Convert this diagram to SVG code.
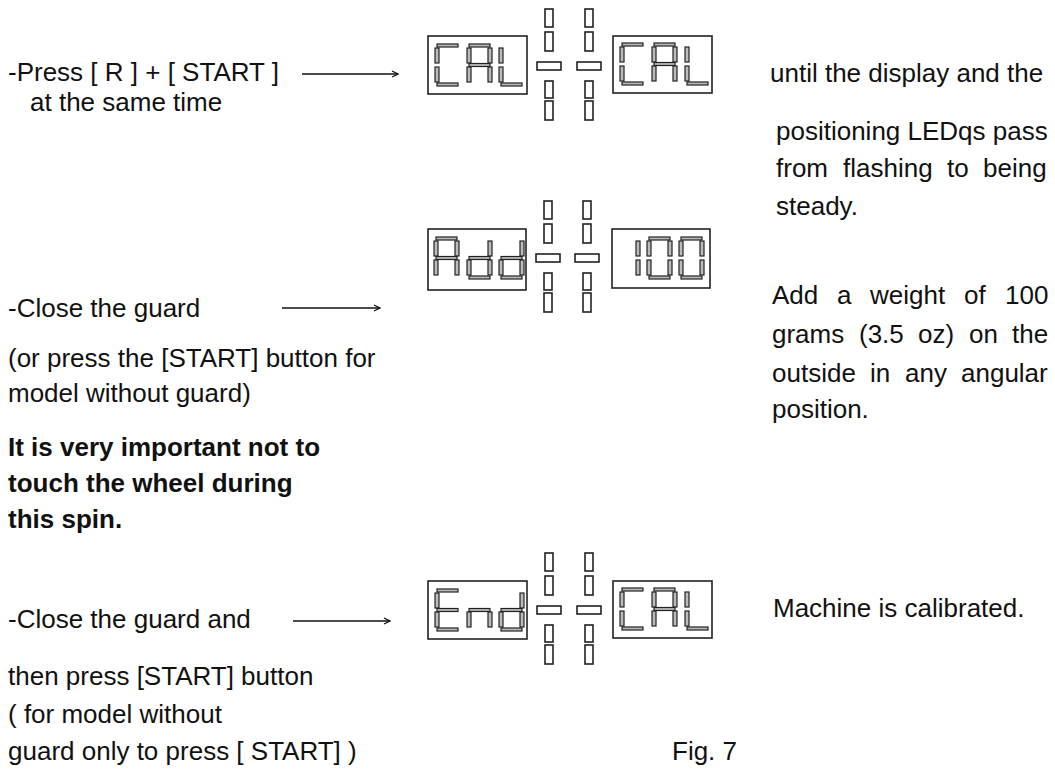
<svg xmlns="http://www.w3.org/2000/svg" xmlns:xlink="http://www.w3.org/1999/xlink" width="1055" height="771" viewBox="0 0 1055 771">
<style>
.t{font-family:"Liberation Sans",Arial,sans-serif;font-size:26px;fill:#111}
.b{font-weight:bold}
.box{fill:none;stroke:#222;stroke-width:1.6}
.seg{fill:#bbb;stroke:#222;stroke-width:1.2}
.cs{fill:#fff;stroke:#222;stroke-width:1.6}
.arr{stroke:#111;stroke-width:1.3;fill:none}
</style>
<defs>
<marker id="ah" markerWidth="8" markerHeight="8" refX="7" refY="4" orient="auto" markerUnits="userSpaceOnUse">
<path d="M1,1 L7,4 L1,7" fill="none" stroke="#111" stroke-width="1.2"/>
</marker>
<rect id="sa" class="seg" x="2" y="0" width="21" height="3"/>
<rect id="sf" class="seg" x="0" y="4" width="4" height="15"/>
<rect id="sb" class="seg" x="21" y="4" width="4" height="15"/>
<rect id="sg" class="seg" x="2" y="19.5" width="21" height="3"/>
<rect id="se" class="seg" x="0" y="23" width="4" height="15"/>
<rect id="sc" class="seg" x="21" y="23" width="4" height="15"/>
<rect id="sd" class="seg" x="2" y="39" width="21" height="3"/>
<g id="dC"><use href="#sa"/><use href="#sf"/><use href="#se"/><use href="#sd"/></g>
<g id="dA"><use href="#sa"/><use href="#sf"/><use href="#sb"/><use href="#sg"/><use href="#se"/><use href="#sc"/></g>
<g id="dL"><use href="#sf"/><use href="#se"/><use href="#sd"/></g>
<g id="dd"><use href="#sb"/><use href="#sg"/><use href="#se"/><use href="#sc"/><use href="#sd"/></g>
<g id="dE"><use href="#sa"/><use href="#sf"/><use href="#sg"/><use href="#se"/><use href="#sd"/></g>
<g id="dn"><use href="#sg"/><use href="#se"/><use href="#sc"/></g>
<g id="d1"><use href="#sb"/><use href="#sc"/></g>
<g id="d0"><use href="#sa"/><use href="#sf"/><use href="#sb"/><use href="#se"/><use href="#sc"/><use href="#sd"/></g>
<g id="cross">
<rect class="cs" x="0" y="0" width="8" height="18"/>
<rect class="cs" x="0" y="23" width="8" height="19"/>
<rect class="cs" x="-8" y="53" width="24" height="8"/>
<rect class="cs" x="0" y="72" width="8" height="17"/>
<rect class="cs" x="0" y="92" width="8" height="19"/>
</g>
</defs>
<rect width="1055" height="771" fill="#fff"/>

<g id="display1">
<rect class="box" x="428" y="36" width="99" height="58"/>
<use href="#dC" x="435" y="44"/><use href="#dA" x="467" y="44"/><use href="#dL" x="499" y="44"/>
<use href="#cross" x="545" y="9"/><use href="#cross" x="585" y="9"/>
<rect class="box" x="613" y="36" width="99" height="57"/>
<use href="#dC" x="620" y="43"/><use href="#dA" x="652" y="43"/><use href="#dL" x="685" y="43"/>
</g>

<g id="display2">
<rect class="box" x="428" y="229" width="98" height="61"/>
<use href="#dA" x="434" y="237"/><use href="#dd" x="467" y="237"/><use href="#dd" x="499" y="237"/>
<use href="#cross" x="544" y="201"/><use href="#cross" x="583" y="201"/>
<rect class="box" x="612" y="229" width="98" height="59"/>
<use href="#d1" x="615" y="237"/><use href="#d0" x="647" y="237"/><use href="#d0" x="679" y="237"/>
</g>

<g id="display3">
<rect class="box" x="428" y="581" width="99" height="58"/>
<use href="#dE" x="435" y="589"/><use href="#dn" x="467" y="589"/><use href="#dd" x="499" y="589"/>
<use href="#cross" x="545" y="553"/><use href="#cross" x="585" y="553"/>
<rect class="box" x="613" y="581" width="99" height="57"/>
<use href="#dC" x="620" y="588"/><use href="#dA" x="652" y="588"/><use href="#dL" x="685" y="588"/>
</g>

<g id="connectors">
<line class="arr" x1="302" y1="74" x2="398" y2="74" marker-end="url(#ah)"/>
<line class="arr" x1="282" y1="308" x2="380" y2="308" marker-end="url(#ah)"/>
<line class="arr" x1="293" y1="621" x2="390" y2="621" marker-end="url(#ah)"/>
</g>

<g id="step1-text">
<text class="t" x="8" y="81">-Press [ R ] + [ START ]</text>
<text class="t" x="30" y="111">at the same time</text>
</g>
<g id="step1-note">
<text class="t" x="770" y="82">until the display and the</text>
<text class="t" x="776" y="140">positioning LEDqs pass</text>
<text class="t" y="177"><tspan x="776">from</tspan><tspan x="843">flashing</tspan><tspan x="947">to</tspan><tspan x="983">being</tspan></text>
<text class="t" x="776" y="215">steady.</text>
</g>

<g id="step2-text">
<text class="t" x="8" y="317">-Close the guard</text>
<text class="t" x="8" y="367">(or press the [START] button for</text>
<text class="t" x="8" y="402">model without guard)</text>
<text class="t b" x="8" y="456">It is very important not to</text>
<text class="t b" x="8" y="492">touch the wheel during</text>
<text class="t b" x="8" y="528">this spin.</text>
</g>
<g id="step2-note">
<text class="t" y="304"><tspan x="772">Add</tspan><tspan x="837">a</tspan><tspan x="870">weight</tspan><tspan x="964">of</tspan><tspan x="1005">100</tspan></text>
<text class="t" y="343"><tspan x="772">grams</tspan><tspan x="859">(3.5</tspan><tspan x="918">oz)</tspan><tspan x="969">on</tspan><tspan x="1012">the</tspan></text>
<text class="t" y="382"><tspan x="772">outside</tspan><tspan x="870">in</tspan><tspan x="905">any</tspan><tspan x="961">angular</tspan></text>
<text class="t" x="772" y="418">position.</text>
</g>

<g id="step3-text">
<text class="t" x="8" y="628">-Close the guard and</text>
<text class="t" x="8" y="685">then press [START] button</text>
<text class="t" x="8" y="723">( for model without</text>
<text class="t" x="8" y="760">guard only to press [ START] )</text>
</g>
<g id="step3-note">
<text class="t" x="773" y="617">Machine is calibrated.</text>
</g>
<text class="t" x="672" y="760">Fig. 7</text>
</svg>
